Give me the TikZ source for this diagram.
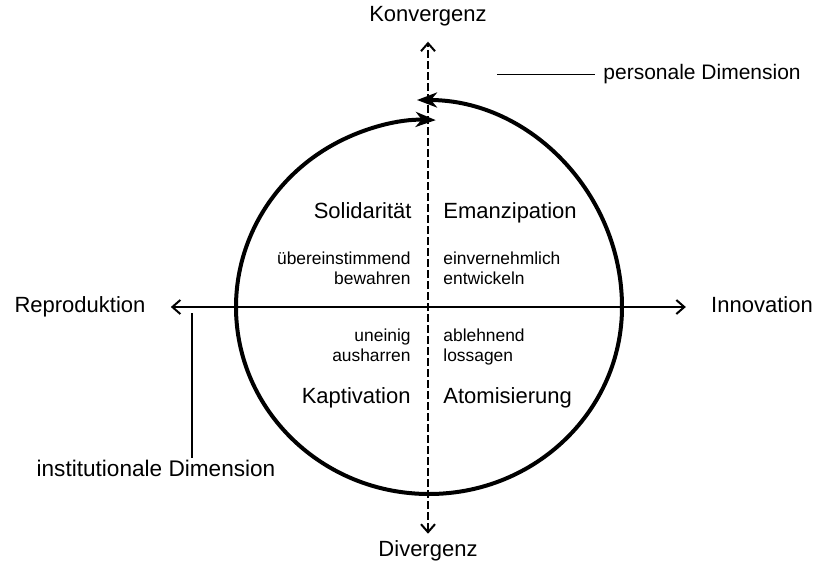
\documentclass[tikz,border=0pt]{standalone}
\usepackage{fontspec}
\setmainfont{Liberation Sans}
\usetikzlibrary{arrows.meta}

\tikzset{
  axislabel/.style={font=\fontsize{11}{13}\selectfont, inner sep=0pt, text height=8pt, text depth=2.3pt},
  quadlabel/.style={font=\fontsize{11}{13}\selectfont, inner sep=0pt},
  modelabel/.style={font=\fontsize{8.7}{10}\selectfont, inner sep=0pt},
  dimlabel/.style={font=\fontsize{10.5}{12}\selectfont, inner sep=0pt},
  barb/.tip={Straight Barb[length=4pt,width=7pt]},
  axis/.style={line width=1pt, barb-barb},
  cyclearc/.style={line width=2pt, -{Stealth[length=10pt,width=7.5pt,inset=3pt]}},
}

\begin{document}
\begin{tikzpicture}[x=0.5pt,y=-0.5pt]
  \useasboundingbox[fill=white] (0,0) rectangle (813,578);

  % axis labels
  \node[axislabel] (repr)  at (80,307)  {Reproduktion};
  \node[axislabel] (innov) at (762,307) {Innovation};
  \node[axislabel] (konv)  at (428,16)  {Konvergenz};
  \node[axislabel] (div)   at (428,551) {Divergenz};

  % the cycle
  \coordinate (bot) at (429,494);
  \coordinate (toptip) at (417,100);
  \draw[cyclearc] (bot) arc[start angle=90, end angle=272, x radius=193, y radius=187];
  \draw[cyclearc] (bot) arc[start angle=90, end angle=0, x radius=193, y radius=187]
    .. controls (622,194) and (530,100) .. (toptip);

  % axes
  \draw[axis, shorten <=12.5pt, shorten >=12.5pt] (repr) -- (innov);
  \draw[axis, dash pattern=on 4pt off 1.5pt, shorten <=3.3pt, shorten >=7.5pt] (div) -- (konv);

  % quadrants
  \node[quadlabel, anchor=base east] (soli) at (412,218) {Solidarität};
  \node[quadlabel, anchor=base west] (eman) at (443,218) {Emanzipation};
  \node[quadlabel, anchor=base east] (kapt) at (411,403) {Kaptivation};
  \node[quadlabel, anchor=base west] (atom) at (443,403) {Atomisierung};

  \node[modelabel, anchor=base east] (ueber) at (411,264) {übereinstimmend};
  \node[modelabel, anchor=base east] (bewa)  at (411,284) {bewahren};
  \node[modelabel, anchor=base west] (einv)  at (443,264) {einvernehmlich};
  \node[modelabel, anchor=base west] (entw)  at (443,284) {entwickeln};
  \node[modelabel, anchor=base east] (unei)  at (411,341) {uneinig};
  \node[modelabel, anchor=base east] (aush)  at (411,361) {ausharren};
  \node[modelabel, anchor=base west] (ableh) at (443,341) {ablehnend};
  \node[modelabel, anchor=base west] (loss)  at (443,361) {lossagen};

  % dimensions
  \node[dimlabel, anchor=base west, inner xsep=4pt] (persdim) at (595,79) {personale Dimension};
  \coordinate (perstail) at (497,74);
  \draw[line width=0.5pt] (perstail) -- (perstail -| persdim.west);

  \node[dimlabel, font=\fontsize{11.3}{13}\selectfont, anchor=north, inner sep=1pt] (instdim) at (156,458) {institutionale Dimension};
  \coordinate (insttop) at (192,313);
  \draw[line width=0.6pt] (insttop) -- (insttop |- instdim.north);
\end{tikzpicture}
\end{document}
